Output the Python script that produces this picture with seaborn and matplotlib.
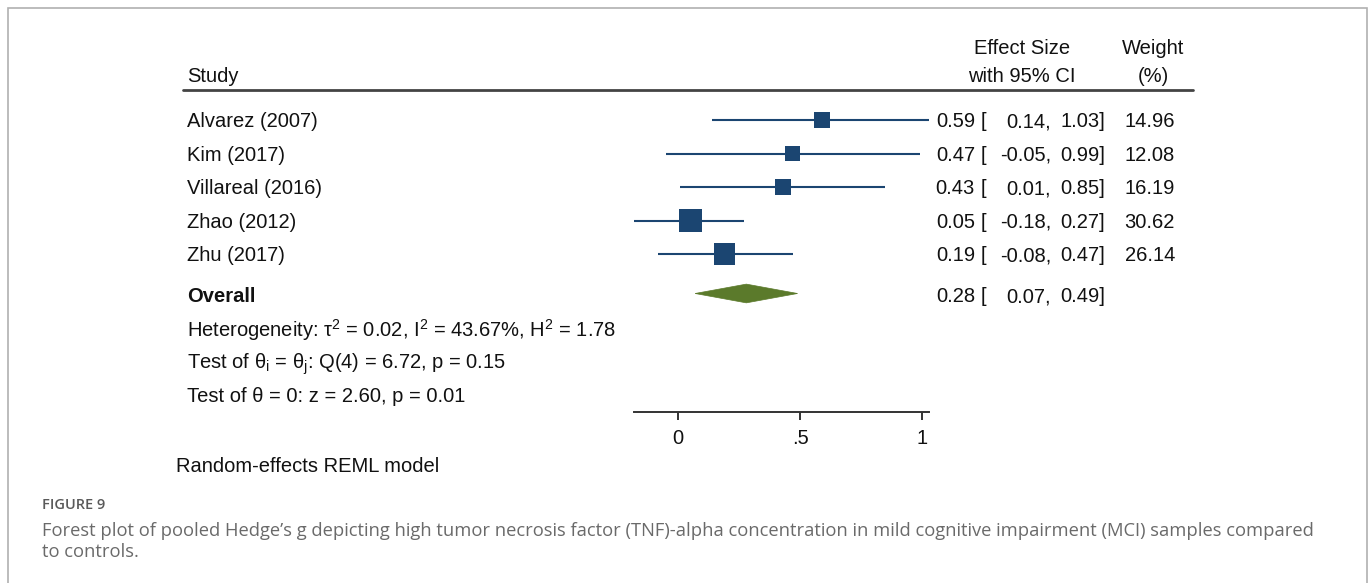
import matplotlib
matplotlib.use("Agg")
import matplotlib.pyplot as plt
import matplotlib.transforms as mtransforms
from matplotlib.patches import Rectangle, Polygon
from matplotlib.lines import Line2D
import seaborn as sns
import pandas as pd

# ---- data -------------------------------------------------------------
studies = ["Alvarez (2007)", "Kim (2017)", "Villareal (2016)", "Zhao (2012)", "Zhu (2017)"]
effect = [0.59, 0.47, 0.43, 0.05, 0.19]
ci_low = [0.14, -0.05, 0.01, -0.18, -0.08]
ci_high = [1.03, 0.99, 0.85, 0.27, 0.47]
weight = [14.96, 12.08, 16.19, 30.62, 26.14]

overall_es = 0.28
overall_low = 0.07
overall_high = 0.49

x_ticks = [0, 0.5, 1]
x_ticklabels = ["0", ".5", "1"]

stats_lines = [
    "Heterogeneity: τ$^\\mathregular{2}$ = 0.02, I$^\\mathregular{2}$ = 43.67%, H$^\\mathregular{2}$ = 1.78",
    "Test of θ$_\\mathregular{i}$ = θ$_\\mathregular{j}$: Q(4) = 6.72, p = 0.15",
    "Test of θ = 0: z = 2.60, p = 0.01",
]
model_note = "Random-effects REML model"
fig_label = "FIGURE 9"
caption_lines = [
    "Forest plot of pooled Hedge’s g depicting high tumor necrosis factor (TNF)-alpha "
    "concentration in mild cognitive impairment (MCI) samples compared",
    "to controls.",
]

# ---- styling ----------------------------------------------------------
sns.set_theme(style="white")
plt.rcParams["font.family"] = ["Liberation Sans", "DejaVu Sans"]
plt.rcParams["mathtext.fontset"] = "custom"
plt.rcParams["mathtext.rm"] = "Liberation Sans"
plt.rcParams["mathtext.it"] = "Liberation Sans:italic"

W, H = 1372, 583
FS = 14.5
TXT = "#111111"
SQ = "#1b4571"
DIA = "#5b7a2b"


def fx(px):
    return px / W


def fy(py):
    return 1 - py / H


fig = plt.figure(figsize=(W / 100, H / 100), dpi=100)
fig.patch.set_facecolor("white")

# frame around the panel
fig.add_artist(Rectangle((fx(8), fy(640)), fx(1367) - fx(8), fy(8) - fy(640),
                         transform=fig.transFigure, fill=False,
                         edgecolor="#b0b0b0", linewidth=1.2))

# plot region: x in effect-size units, y in row units (inverted)
x0_px, unit_px = 678, 244
xmin, xmax = -0.2, 1.05
top_px, bot_px = 100, 412
ymin, ymax = -0.6, 8.72
ax = fig.add_axes([fx(x0_px + xmin * unit_px), fy(bot_px),
                   (xmax - xmin) * unit_px / W, (bot_px - top_px) / H])
ax.set_xlim(xmin, xmax)
ax.set_ylim(ymax, ymin)
ax.patch.set_alpha(0)

rows = list(range(len(studies)))
overall_row = 5.18
stat_rows = [6.27, 7.29, 8.27]
dt = 0.05  # nudge so text sits optically on its row

df = pd.DataFrame({"study": studies, "es": effect, "lo": ci_low,
                   "hi": ci_high, "w": weight, "row": rows})

# confidence intervals
ax.hlines(df["row"], df["lo"], df["hi"], color=SQ, linewidth=1.5, zorder=2)

# study squares, area proportional to weight
k = 8.9
sns.scatterplot(data=df, x="es", y="row", size="w",
                sizes=(k * min(weight), k * max(weight)),
                marker="s", color=SQ, linewidth=0, legend=False, ax=ax, zorder=3)

# pooled estimate diamond
dh = 0.28
ax.add_patch(Polygon([(overall_low, overall_row), (overall_es, overall_row - dh),
                      (overall_high, overall_row), (overall_es, overall_row + dh)],
                     closed=True, facecolor=DIA, edgecolor=DIA, linewidth=0.5, zorder=3))

# axis
for s in ["top", "left", "right"]:
    ax.spines[s].set_visible(False)
ax.spines["bottom"].set_bounds(min(ci_low), max(ci_high))
ax.spines["bottom"].set_color("#333333")
ax.spines["bottom"].set_linewidth(1.4)
ax.set_yticks([])
ax.set_xticks(x_ticks)
ax.set_xticklabels(x_ticklabels, fontsize=FS, color=TXT)
ax.tick_params(axis="x", direction="out", length=6, width=1.4, color="#333333", pad=6, bottom=True)
ax.set_xlabel("")
ax.set_ylabel("")

# text columns: x in figure fraction, y in row units
tr = mtransforms.blended_transform_factory(fig.transFigure, ax.transData)


def cell(x_px, r, s, ha="left", **kw):
    ax.text(fx(x_px), r + dt, s, transform=tr, ha=ha, va="center",
            fontsize=FS, color=TXT, **kw)


for i, r in enumerate(rows):
    cell(187, r, studies[i])
    cell(975, r, f"{effect[i]:.2f}", ha="right")
    cell(981, r, "[")
    cell(1051, r, f"{ci_low[i]:.2f},", ha="right")
    cell(1105, r, f"{ci_high[i]:.2f}]", ha="right")
    cell(1175, r, f"{weight[i]:.2f}", ha="right")

orow = overall_row + 0.04
cell(187, orow, "Overall", fontweight="bold")
cell(975, orow, f"{overall_es:.2f}", ha="right")
cell(981, orow, "[")
cell(1051, orow, f"{overall_low:.2f},", ha="right")
cell(1105, orow, f"{overall_high:.2f}]", ha="right")

for r, s in zip(stat_rows, stats_lines):
    ax.text(fx(187), r, s, transform=tr, ha="left", va="center", fontsize=FS, color=TXT)

# column headers
fig.text(fx(187), fy(76), "Study", ha="left", va="center", fontsize=FS, color=TXT)
fig.text(fx(1022), fy(49), "Effect Size", ha="center", va="center", fontsize=FS, color=TXT)
fig.text(fx(1022), fy(76), "with 95% CI", ha="center", va="center", fontsize=FS, color=TXT)
fig.text(fx(1153), fy(49), "Weight", ha="center", va="center", fontsize=FS, color=TXT)
fig.text(fx(1153), fy(76), "(%)", ha="center", va="center", fontsize=FS, color=TXT)
fig.add_artist(Line2D([fx(183), fx(1193)], [fy(90), fy(90)], transform=fig.transFigure,
                      color="#444444", linewidth=2))

fig.text(fx(176), fy(467), model_note, ha="left", va="center", fontsize=FS, color=TXT)

# caption
cap_font = ["Open Sans", "DejaVu Sans"]
fig.text(fx(42), fy(505), fig_label, ha="left", va="center", fontsize=10.5,
         color="#5a5a5a", family=cap_font, fontweight="semibold")
fig.text(fx(42), fy(531), caption_lines[0], ha="left", va="center", fontsize=13.25,
         color="#6a6a6a", family=cap_font)
fig.text(fx(42), fy(552), caption_lines[1], ha="left", va="center", fontsize=13.25,
         color="#6a6a6a", family=cap_font)

fig.savefig("out.png", dpi=100, facecolor="white")
